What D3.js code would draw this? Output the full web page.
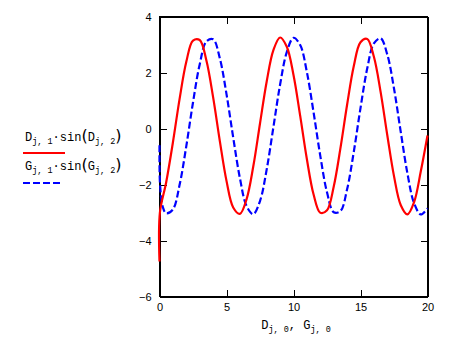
<!DOCTYPE html>
<html>
<head>
<meta charset="utf-8">
<script src="https://cdnjs.cloudflare.com/ajax/libs/d3/7.8.5/d3.min.js"></script>
<style>
  body { margin: 0; background: #fff; }
  text { font-family: "Liberation Sans", Arial, sans-serif; font-size: 11px; fill: #000; }
  .math { font-family: "Liberation Mono", "DejaVu Sans Mono", monospace; }
</style>
</head>
<body>
<div id="chart"></div>
<script>
// D_j,0 vs D_j,1*sin(D_j,2)  (red, solid)
var redX = [0, 0.03, 0.5, 1, 1.5, 2, 2.5, 3, 3.5, 4, 4.5, 5, 5.5, 6, 6.5, 7, 7.5, 8, 8.5, 9, 9.5, 10,
            10.5, 11, 11.5, 12, 12.5, 13, 13.5, 14, 14.5, 15, 15.5, 16, 16.5, 17, 17.5, 18, 18.5, 19, 19.5, 20];
var redY = [-4.75, -3.0, -1.92, -0.50, 1.06, 2.38, 3.14, 3.16, 2.43, 1.12, -0.44, -1.87, -2.82, -3.05, -2.52, -1.35,
            0.18, 1.68, 2.80, 3.25, 2.92, 1.91, 0.45, -1.10, -2.36, -3.01, -2.92, -2.08, -0.71, 0.85, 2.23, 3.08,
            3.20, 2.56, 1.31, -0.24, -1.70, -2.73, -3.07, -2.63, -1.53, -0.25];

// G_j,0 vs G_j,1*sin(G_j,2)  (blue, dashed)
var blueX = [0, 0.04, 0.25, 0.5, 1, 1.5, 2, 2.5, 3, 3.5, 4, 4.5, 5, 5.5, 6, 6.5, 7, 7.5, 8, 8.5, 9, 9.5, 10,
             10.5, 11, 11.5, 12, 12.5, 13, 13.5, 14, 14.5, 15, 15.5, 16, 16.5, 17, 17.5, 18, 18.5, 19, 19.5, 20];
var blueY = [-0.6, -2.0, -2.81, -3.03, -2.89, -2.01, -0.63, 0.93, 2.29, 3.11, 3.19, 2.51, 1.23, -0.32, -1.77, -2.77,
             -3.06, -2.59, -1.46, 0.05, 1.57, 2.73, 3.24, 2.98, 2.01, 0.57, -0.98, -2.28, -2.99, -2.95, -2.17, -0.83,
             0.73, 2.14, 3.04, 3.22, 2.64, 1.43, -0.11, -1.60, -2.67, -3.07, -2.85];

var xTicks = [0, 5, 10, 15, 20];
var yTicks = [-6, -4, -2, 0, 2, 4];

var W = 460, H = 338;
var svg = d3.select("#chart").append("svg")
    .attr("width", W).attr("height", H);
svg.append("rect").attr("width", W).attr("height", H).attr("fill", "#fff");

var x = d3.scaleLinear().domain([0, 20]).range([159.5, 427.5]);
var y = d3.scaleLinear().domain([-6, 4]).range([296.5, 16.5]);

function fmt(d) { return d < 0 ? "\u2212" + (-d) : "" + d; }

// ticks on all four sides, pointing inward
svg.append("g").attr("transform", "translate(" + x(0) + ",0)")
    .call(d3.axisLeft(y).tickValues(yTicks).tickSize(-7).tickSizeOuter(0).tickPadding(8).tickFormat(fmt));
svg.append("g").attr("transform", "translate(" + x(20) + ",0)")
    .call(d3.axisRight(y).tickValues(yTicks).tickSize(-7).tickSizeOuter(0).tickFormat(""));
svg.append("g").attr("transform", "translate(0," + y(-6) + ")")
    .call(d3.axisBottom(x).tickValues(xTicks).tickSize(-7).tickSizeOuter(0).tickPadding(7));
svg.append("g").attr("transform", "translate(0," + y(4) + ")")
    .call(d3.axisTop(x).tickValues(xTicks).tickSize(-7).tickSizeOuter(0).tickFormat(""));

svg.selectAll(".tick text").attr("font-size", 11).attr("font-family", "Liberation Sans, Arial, sans-serif");
svg.selectAll(".domain, .tick line").attr("shape-rendering", "crispEdges").attr("stroke", "#000");

svg.append("rect")
    .attr("x", x(0)).attr("y", y(4))
    .attr("width", x(20) - x(0)).attr("height", y(-6) - y(4))
    .attr("fill", "none").attr("stroke", "#000").attr("shape-rendering", "crispEdges");

var line = d3.line().x(function(d) { return x(d[0]); }).y(function(d) { return y(d[1]); })
    .curve(d3.curveCatmullRom);

svg.append("path")
    .attr("d", line(d3.zip(blueX, blueY)))
    .attr("fill", "none").attr("stroke", "#0000ff").attr("stroke-width", 2.2)
    .attr("stroke-dasharray", "7,3");

svg.append("path")
    .attr("d", line(d3.zip(redX, redY)))
    .attr("fill", "none").attr("stroke", "#ff0000").attr("stroke-width", 2.2);

// math-like labels: [text, type]  n = normal, s = subscript, p = big paren
function mathText(px, py, parts, anchor) {
  var t = svg.append("text").attr("class", "math").attr("x", px).attr("y", py)
      .attr("text-anchor", anchor || "start");
  var shift = 0;
  parts.forEach(function(p) {
    var ts = t.append("tspan").text(p[0]);
    var target = p[1] === "s" ? 2.5 : 0;
    ts.attr("dy", target - shift);
    shift = target;
    if (p[1] === "s") ts.attr("font-size", 8.5);
    else if (p[1] === "p") ts.attr("font-size", 16).attr("font-family", "DejaVu Sans, sans-serif");
    else ts.attr("font-size", 12);
  });
  return t;
}

mathText(25, 141, [["D", "n"], ["j, 1", "s"], ["\u00b7sin", "n"], ["(", "p"], ["D", "n"], ["j, 2", "s"], [")", "p"]]);
mathText(25, 170, [["G", "n"], ["j, 1", "s"], ["\u00b7sin", "n"], ["(", "p"], ["G", "n"], ["j, 2", "s"], [")", "p"]]);

svg.append("line").attr("x1", 23).attr("x2", 65).attr("y1", 153).attr("y2", 153)
    .attr("stroke", "#ff0000").attr("stroke-width", 2).attr("shape-rendering", "crispEdges");
svg.append("line").attr("x1", 23).attr("x2", 61).attr("y1", 183).attr("y2", 183)
    .attr("stroke", "#0000ff").attr("stroke-width", 2).attr("stroke-dasharray", "7,3")
    .attr("shape-rendering", "crispEdges");

mathText(296, 329, [["D", "n"], ["j, 0", "s"], [", ", "n"], ["G", "n"], ["j, 0", "s"]], "middle");
</script>
</body>
</html>
